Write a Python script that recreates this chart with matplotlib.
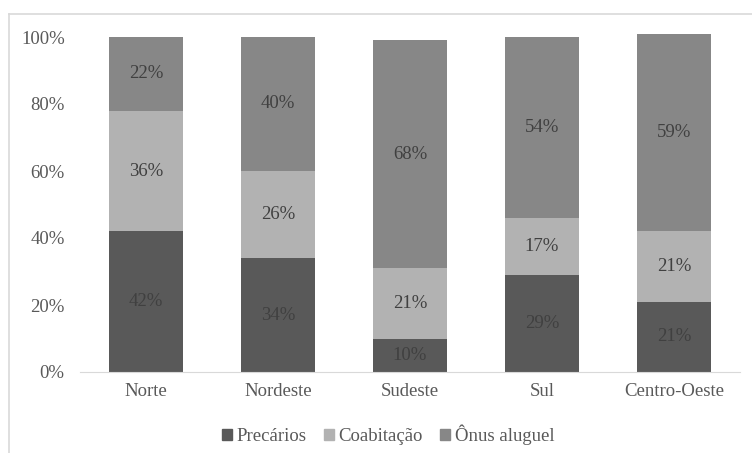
import matplotlib.pyplot as plt
from matplotlib.lines import Line2D
import numpy as np

plt.rcParams['font.family'] = ['Liberation Serif', 'DejaVu Serif']

regioes = ["Norte", "Nordeste", "Sudeste", "Sul", "Centro-Oeste"]
precarios = [42, 34, 10, 29, 21]
coabitacao = [36, 26, 21, 17, 21]
onus = [22, 40, 68, 54, 59]
series_names = ["Precários", "Coabitação", "Ônus aluguel"]

colors = ['#595959', '#b2b2b2', '#878787']

fig = plt.figure(figsize=(7.52, 4.53), dpi=100)
ax = fig.add_axes([80 / 752, 81 / 453, 660 / 752, 335 / 453])

x = np.arange(len(regioes))
bw = 0.565
bottom = np.zeros(len(regioes))
for vals, name, c in zip([precarios, coabitacao, onus], series_names, colors):
    vals = np.array(vals)
    ax.bar(x, vals, bw, bottom=bottom, color=c, label=name, clip_on=False, zorder=2)
    for xi, b, v in zip(x, bottom, vals):
        ax.text(xi, b + v / 2, f"{v}%", ha='center', va='center', fontsize=13.5, color='#404040')
    bottom += vals

ax.set_xlim(-0.5, len(regioes) - 0.5)
ax.set_ylim(0, 100)
ax.set_yticks(np.arange(0, 101, 20))
ax.set_yticklabels([f"{t}%" for t in range(0, 101, 20)])
ax.set_xticks(x)
ax.set_xticklabels(regioes)
ax.tick_params(axis='both', length=0, labelsize=13.5, colors='#595959')
ax.tick_params(axis='x', pad=8)
ax.tick_params(axis='y', pad=11)
for s in ['top', 'right', 'left']:
    ax.spines[s].set_visible(False)
ax.spines['bottom'].set_color('#d9d9d9')

handles = [plt.Rectangle((0, 0), 1, 1, color=c) for c in colors]
fig.legend(handles, series_names, loc='center', bbox_to_anchor=(388 / 752, 1 - 435 / 453),
           ncol=3, frameon=False, fontsize=13.5, handlelength=0.55, handleheight=0.55,
           handletextpad=0.25, columnspacing=0.9, labelcolor='#595959')

# moldura do gráfico
fig.add_artist(Line2D([8.5 / 752, 8.5 / 752], [0, 1 - 14 / 453], color='#d9d9d9', lw=1.2))
fig.add_artist(Line2D([8.5 / 752, 1], [1 - 14 / 453, 1 - 14 / 453], color='#d9d9d9', lw=1.2))

fig.savefig('out.png', dpi=100)
